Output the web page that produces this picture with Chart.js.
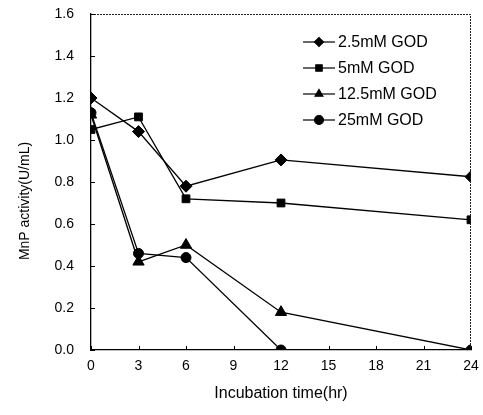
<!DOCTYPE html>
<html>
<head>
<meta charset="utf-8">
<script src="https://cdn.jsdelivr.net/npm/chart.js@4.4.0/dist/chart.umd.min.js"></script>
<style>
    html, body { margin: 0; padding: 0; background: #fff; }
    #wrap { width: 483px; height: 415px; }
</style>
</head>
<body>
<div id="wrap"><canvas id="mnpChart" width="483" height="415"></canvas></div>
<script>
const hours = [0, 3, 6, 12, 24];
const xTicks = [0, 3, 6, 9, 12, 15, 18, 21, 24];
const seriesNames = ['2.5mM GOD', '5mM GOD', '12.5mM GOD', '25mM GOD'];
const god25 = [1.20, 1.04, 0.78, 0.905, 0.825];
const god5 = [1.05, 1.11, 0.72, 0.70, 0.62];
const god125 = [1.12, 0.42, 0.50, 0.18, 0.0];
const god250 = [1.13, 0.46, 0.44, 0.0, 0.0];
const markers = ['rectRot', 'rect', 'triangle', 'circle'];
const markerSizes = [6, 5.5, 6.5, 5];
const yTitle = 'MnP activity(U/mL)';

const fontFamily = '"Liberation Sans", Arial, sans-serif';

function makeDataset(label, values, style, radius) {
    return {
        label: label,
        data: hours.map((h, i) => ({ x: h, y: values[i] })),
        borderColor: '#000',
        backgroundColor: '#000',
        borderWidth: 1.3,
        pointStyle: style,
        pointRadius: radius,
        pointBorderWidth: 1,
        tension: 0,
    };
}

const datasets = [
    makeDataset(seriesNames[0], god25, markers[0], markerSizes[0]),
    makeDataset(seriesNames[1], god5, markers[1], markerSizes[1]),
    makeDataset(seriesNames[2], god125, markers[2], markerSizes[2]),
    makeDataset(seriesNames[3], god250, markers[3], markerSizes[3]),
];

// frame, inward ticks, y title and the legend drawn by hand
const framePlugin = {
    id: 'framePlugin',
    afterDraw(chart) {
        const ctx = chart.ctx;
        const area = chart.chartArea;
        const xs = chart.scales.x;
        const ys = chart.scales.y;

        ctx.save();
        ctx.strokeStyle = '#222';
        ctx.lineWidth = 1;
        ctx.setLineDash([2, 1]);
        ctx.beginPath();
        ctx.moveTo(area.left, area.top + 0.5);
        ctx.lineTo(area.right - 0.5, area.top + 0.5);
        ctx.lineTo(area.right - 0.5, area.bottom);
        ctx.stroke();
        ctx.setLineDash([]);

        ctx.strokeStyle = '#000';
        ctx.beginPath();
        xTicks.forEach(t => {
            const px = Math.round(xs.getPixelForValue(t)) + 0.5;
            ctx.moveTo(px, area.bottom);
            ctx.lineTo(px, area.bottom - 4);
        });
        for (let v = 0; v <= 1.6001; v += 0.2) {
            const py = Math.round(ys.getPixelForValue(v)) + 0.5;
            ctx.moveTo(area.left, py);
            ctx.lineTo(area.left + 4, py);
        }
        ctx.stroke();

        // y axis title, a little below the middle as in the source
        ctx.save();
        ctx.translate(25, 201);
        ctx.rotate(-Math.PI / 2);
        ctx.font = '14px ' + fontFamily;
        ctx.fillStyle = '#000';
        ctx.textAlign = 'center';
        ctx.textBaseline = 'middle';
        ctx.fillText(yTitle, 0, 0);
        ctx.restore();

        // legend
        const lx = area.left + 212;
        let ly = area.top + 28;
        ctx.font = '16px ' + fontFamily;
        ctx.textBaseline = 'middle';
        ctx.textAlign = 'left';
        chart.data.datasets.forEach(ds => {
            ctx.strokeStyle = '#000';
            ctx.fillStyle = '#000';
            ctx.lineWidth = 1.2;
            ctx.beginPath();
            ctx.moveTo(lx, ly);
            ctx.lineTo(lx + 32, ly);
            ctx.stroke();
            Chart.helpers.drawPoint(ctx, {
                pointStyle: ds.pointStyle,
                radius: 4.5,
                rotation: 0,
                borderWidth: 1,
            }, lx + 16, ly);
            ctx.fillStyle = '#000';
            ctx.fillText(ds.label, lx + 35, ly + 1);
            ly += 26;
        });
        ctx.restore();
    }
};

new Chart(document.getElementById('mnpChart'), {
    type: 'line',
    data: { datasets: datasets },
    options: {
        responsive: false,
        animation: false,
        layout: { padding: { top: 14, right: 12, left: 0, bottom: 0 } },
        plugins: {
            legend: { display: false },
            tooltip: { enabled: false },
        },
        scales: {
            x: {
                type: 'linear',
                min: 0,
                max: 24,
                afterBuildTicks: scale => {
                    scale.ticks = xTicks.map(v => ({ value: v }));
                },
                afterFit: scale => {
                    scale.height = 65;
                    scale.paddingLeft = 0;
                    scale.paddingRight = 0;
                },
                grid: { display: false, drawTicks: false },
                border: { display: true, color: '#000', width: 1.3 },
                ticks: {
                    padding: 8,
                    color: '#000',
                    font: { family: fontFamily, size: 14 },
                },
                title: {
                    display: true,
                    text: 'Incubation time(hr)',
                    color: '#000',
                    font: { family: fontFamily, size: 16 },
                    padding: { top: 4, bottom: 12 },
                },
            },
            y: {
                min: 0,
                max: 1.6,
                afterFit: scale => {
                    scale.width = 91;
                    scale.paddingTop = 0;
                    scale.paddingBottom = 0;
                },
                grid: { display: false, drawTicks: false },
                border: { display: true, color: '#000', width: 1.3 },
                ticks: {
                    stepSize: 0.2,
                    padding: 17,
                    color: '#000',
                    font: { family: fontFamily, size: 14 },
                    callback: v => v.toFixed(1),
                },
            },
        },
    },
    plugins: [framePlugin],
});
</script>
</body>
</html>
